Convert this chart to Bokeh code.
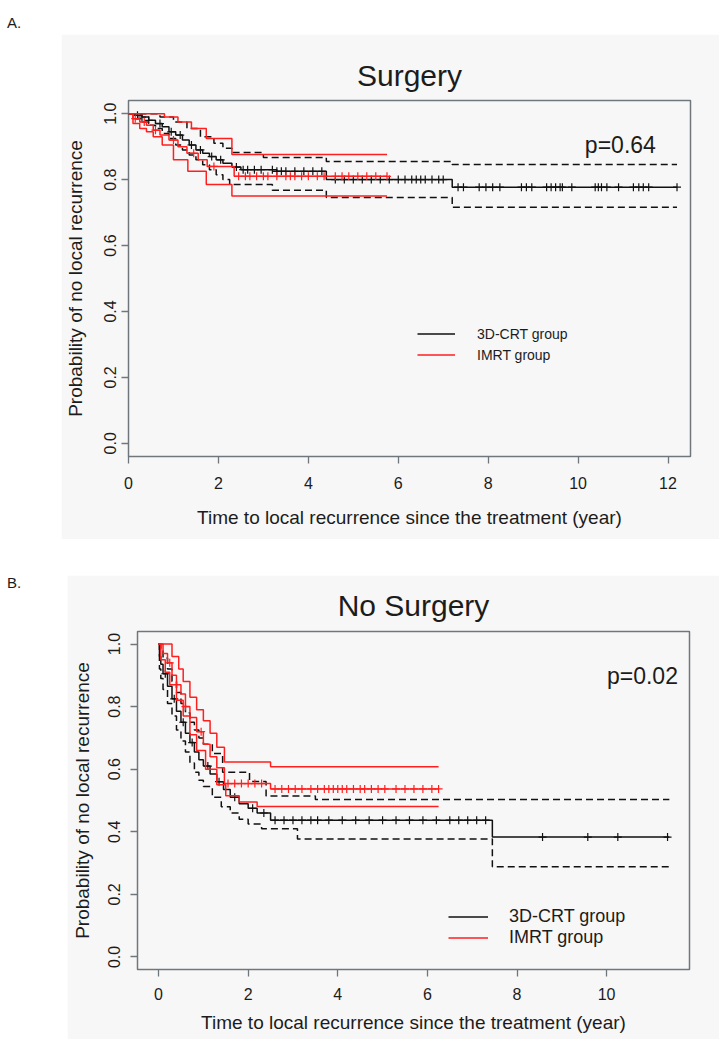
import numpy as np
from bokeh.plotting import figure
from bokeh.models import Range1d, FixedTicker, PrintfTickFormatter, Legend, LegendItem, Label, Div
from bokeh.layouts import column, row
from bokeh.embed import file_html
from bokeh.resources import INLINE

# ---------------- data: Surgery (panel A) ----------------
crt_s_t = [0, 0.15, 0.3, 0.45, 0.6, 0.75, 0.9, 1.05, 1.2, 1.35, 1.5, 1.65, 1.8, 1.95, 2.1, 2.3, 2.5, 3.3, 4.4, 7.2]
crt_s_s = [1.0, 0.995, 0.99, 0.98, 0.97, 0.96, 0.945, 0.935, 0.92, 0.905, 0.89, 0.88, 0.87, 0.86, 0.85, 0.838, 0.83, 0.825, 0.80, 0.777]
crt_s_up_t = [0, 0.4, 0.7, 1.0, 1.3, 1.6, 1.9, 2.1, 2.3, 3.0, 4.4, 7.2]
crt_s_up_s = [1.0, 1.0, 0.99, 0.975, 0.955, 0.93, 0.91, 0.895, 0.882, 0.867, 0.855, 0.846]
crt_s_lo_t = [0, 0.15, 0.3, 0.45, 0.6, 0.75, 0.9, 1.05, 1.2, 1.35, 1.5, 1.65, 1.8, 1.95, 2.1, 2.25, 3.2, 4.4, 7.2]
crt_s_lo_s = [1.0, 0.985, 0.975, 0.965, 0.955, 0.94, 0.925, 0.905, 0.89, 0.875, 0.86, 0.845, 0.83, 0.815, 0.80, 0.785, 0.768, 0.746, 0.716]
crt_s_end = 12.2
crt_s_cens = [0.2, 0.3, 0.45, 0.7, 0.95, 1.15, 1.4, 1.6, 1.85, 2.05, 2.4, 2.55, 2.65, 2.8, 2.95, 3.2, 3.3, 3.4,
              3.5, 3.7, 3.9, 4.1, 4.3, 4.6, 4.8, 5.0, 5.2, 5.4, 5.6, 5.8, 6.0, 6.15, 6.3, 6.4, 6.5, 6.6, 6.75,
              6.9, 7.0, 7.33, 7.45, 7.8, 7.95, 8.1, 8.26, 8.74, 8.85, 8.97, 9.3, 9.4, 9.5, 9.6, 9.65, 9.86,
              10.38, 10.45, 10.52, 10.64, 10.9, 11.23, 11.35, 11.45, 11.57, 12.2]

imrt_s_t = [0, 0.1, 0.25, 0.4, 0.55, 0.7, 0.9, 1.1, 1.3, 1.55, 1.75, 2.35]
imrt_s_s = [1.0, 0.985, 0.975, 0.965, 0.95, 0.935, 0.92, 0.90, 0.88, 0.86, 0.84, 0.81]
imrt_s_up_t = [0, 0.5, 0.8, 1.1, 1.4, 1.73, 2.3]
imrt_s_up_s = [1.0, 1.0, 0.99, 0.975, 0.955, 0.925, 0.876]
imrt_s_lo_t = [0, 0.1, 0.25, 0.4, 0.55, 0.75, 1.0, 1.32, 1.73, 2.3]
imrt_s_lo_s = [1.0, 0.97, 0.955, 0.945, 0.93, 0.905, 0.86, 0.825, 0.785, 0.75]
imrt_s_end = 5.75
imrt_s_cens = [0.15, 0.35, 0.6, 1.0, 1.45, 1.9, 2.45, 2.6, 2.7, 2.85, 3.0, 3.1, 3.3, 3.5, 3.6, 3.7, 3.85,
               4.0, 4.2, 4.35, 4.6, 4.75, 4.9, 5.1, 5.3, 5.5, 5.75]

# ---------------- data: No Surgery (panel B) ----------------
crt_n_t = [0, 0.02, 0.05, 0.1, 0.2, 0.3, 0.4, 0.5, 0.6, 0.7, 0.8, 0.9, 1.0, 1.15, 1.3, 1.45, 1.6, 1.8, 2.0, 2.2, 2.5, 7.45]
crt_n_s = [1.0, 0.96, 0.935, 0.905, 0.865, 0.825, 0.785, 0.75, 0.715, 0.685, 0.655, 0.63, 0.61, 0.585, 0.56,
           0.535, 0.51, 0.49, 0.475, 0.46, 0.437, 0.383]
crt_n_up_t = [0, 0.05, 0.1, 0.2, 0.3, 0.4, 0.5, 0.6, 0.7, 0.8, 0.9, 1.0, 1.2, 1.43, 2.03, 2.4, 3.5]
crt_n_up_s = [1.0, 0.98, 0.955, 0.92, 0.88, 0.845, 0.81, 0.78, 0.75, 0.725, 0.70, 0.68, 0.65, 0.59, 0.561, 0.514, 0.503]
crt_n_lo_t = [0, 0.02, 0.05, 0.1, 0.2, 0.3, 0.4, 0.5, 0.6, 0.7, 0.8, 0.9, 1.0, 1.2, 1.4, 1.6, 1.8, 2.0, 2.3, 3.1, 7.45]
crt_n_lo_s = [1.0, 0.92, 0.89, 0.855, 0.81, 0.77, 0.725, 0.69, 0.655, 0.62, 0.59, 0.565, 0.545, 0.51, 0.48,
              0.46, 0.44, 0.425, 0.41, 0.377, 0.288]
crt_n_end = 11.4
crt_n_cens = [0.15, 0.35, 0.55, 0.75, 1.1, 1.35, 1.7, 2.1, 2.35, 2.6, 2.8, 3.0, 3.2, 3.4, 3.55, 3.8, 4.1, 4.4,
              4.7, 5.0, 5.3, 5.6, 5.9, 6.2, 6.5, 6.7, 6.9, 7.1, 7.3, 8.57, 9.58, 10.25, 11.36]

imrt_n_t = [0, 0.1, 0.2, 0.3, 0.4, 0.5, 0.6, 0.7, 0.85, 1.0, 1.15, 1.3, 1.47, 2.5]
imrt_n_s = [1.0, 0.97, 0.94, 0.90, 0.87, 0.84, 0.80, 0.765, 0.72, 0.68, 0.64, 0.605, 0.554, 0.537]
imrt_n_up_t = [0, 0.2, 0.3, 0.45, 0.55, 0.7, 0.85, 1.0, 1.15, 1.3, 1.47, 2.5]
imrt_n_up_s = [1.0, 1.0, 0.96, 0.92, 0.88, 0.83, 0.79, 0.755, 0.715, 0.67, 0.623, 0.608]
imrt_n_lo_t = [0, 0.05, 0.15, 0.25, 0.4, 0.55, 0.7, 0.85, 1.05, 1.3, 1.5, 1.8, 2.2]
imrt_n_lo_s = [1.0, 0.95, 0.91, 0.87, 0.82, 0.77, 0.71, 0.66, 0.60, 0.55, 0.515, 0.495, 0.481]
imrt_n_end = 6.25
imrt_n_cens = [0.25, 0.6, 0.95, 1.55, 1.7, 1.85, 2.0, 2.15, 2.3, 2.6, 2.75, 2.9, 3.05, 3.2, 3.4, 3.55, 3.7,
               3.8, 3.9, 4.0, 4.1, 4.2, 4.35, 4.5, 4.6, 4.75, 4.9, 5.05, 5.3, 5.5, 5.7, 5.9, 6.1, 6.25]

# ---------------- text / ticks ----------------
titles = ["Surgery", "No Surgery"]
pvalues = ["p=0.64", "p=0.02"]
pvalue_pos = [(10.94, 0.906), (10.8, 0.899)]
legend_labels = ["3D-CRT group", "IMRT group"]
x_ticks_a = [0, 2, 4, 6, 8, 10, 12]
x_ticks_b = [0, 2, 4, 6, 8, 10]
y_ticks = [0.0, 0.2, 0.4, 0.6, 0.8, 1.0]
x_label = "Time to local recurrence since the treatment (year)"
y_label = "Probability of no local recurrence"

FONT = "Liberation Sans"
BG = "#f7f7f7"
BOX = "#6f777c"
TXT = "#1c1c1c"
BLACK = "#111111"
RED = "#ff1f1f"


def step_xy(t, s, end):
    return list(t) + [end], list(s) + [s[-1]]


def cens_y(t, s, c):
    idx = np.searchsorted(np.asarray(t), np.asarray(c), side="right") - 1
    return list(np.asarray(s)[idx])


def make_panel(title, x_lo, x_hi, xticks, w, h, mb, groups, ptxt, ppos,
               leg_loc, leg_font, leg_row, leg_glyph, leg_stand,
               xt_stand, xl_stand, yt_stand, yl_stand, title_stand):
    p = figure(width=w, height=h, x_range=Range1d(x_lo, x_hi), y_range=Range1d(-0.04, 1.04),
               output_backend="svg", toolbar_location=None,
               min_border_left=mb[0], min_border_right=mb[1], min_border_top=mb[2], min_border_bottom=mb[3])
    p.background_fill_color = BG
    p.border_fill_color = BG
    p.grid.visible = False
    p.outline_line_color = BOX
    p.outline_line_width = 1.5

    p.title.text = title
    p.title.align = "center"
    p.title.text_font = FONT
    p.title.text_font_size = "30px"
    p.title.text_font_style = "normal"
    p.title.text_color = TXT
    p.title.standoff = title_stand

    p.xaxis.ticker = FixedTicker(ticks=xticks)
    p.yaxis.ticker = FixedTicker(ticks=y_ticks)
    p.yaxis.formatter = PrintfTickFormatter(format="%.1f")
    p.yaxis.major_label_orientation = "vertical"
    p.xaxis.axis_label = x_label
    p.yaxis.axis_label = y_label
    for ax in (p.xaxis[0], p.yaxis[0]):
        ax.axis_line_color = None
        ax.major_tick_line_color = BOX
        ax.major_tick_line_width = 1.3
        ax.major_tick_out = 7
        ax.major_tick_in = 0
        ax.minor_tick_line_color = None
        ax.major_label_text_font = FONT
        ax.major_label_text_font_size = "16px"
        ax.major_label_text_color = TXT
        ax.axis_label_text_font = FONT
        ax.axis_label_text_font_size = "19px"
        ax.axis_label_text_font_style = "normal"
        ax.axis_label_text_color = TXT
    p.xaxis.major_label_standoff = xt_stand
    p.xaxis.axis_label_standoff = xl_stand
    p.yaxis.major_label_standoff = yt_stand
    p.yaxis.axis_label_standoff = yl_stand

    mains = []
    for color, (t, s, ut, us, lt, ls, end, cens) in groups:
        ux, uy = step_xy(ut, us, end)
        lx, ly = step_xy(lt, ls, end)
        mx, my = step_xy(t, s, end)
        p.step(ux, uy, mode="after", line_color=color, line_width=1.5,
               line_dash="7 4" if color == BLACK else "solid")
        p.step(lx, ly, mode="after", line_color=color, line_width=1.5,
               line_dash="7 4" if color == BLACK else "solid")
        r = p.step(mx, my, mode="after", line_color=color, line_width=1.5)
        p.scatter(cens, cens_y(t, s, cens), marker="cross", size=8, line_color=color, line_width=1.2)
        mains.append(r)

    leg = Legend(items=[LegendItem(label=legend_labels[0], renderers=[mains[0]]),
                        LegendItem(label=legend_labels[1], renderers=[mains[1]])],
                 location=leg_loc, padding=0, margin=0, spacing=0,
                 glyph_width=leg_glyph, glyph_height=leg_row, label_height=leg_row,
                 label_standoff=leg_stand, label_text_font=FONT, label_text_font_size=leg_font,
                 label_text_color=TXT, border_line_color=None, background_fill_alpha=0)
    p.add_layout(leg)

    p.add_layout(Label(x=ppos[0], y=ppos[1], text=ptxt, text_align="center", text_baseline="middle",
                       text_font=FONT, text_font_size="23px", text_color=TXT))
    return p


p1 = make_panel(titles[0], 0, 12.5, x_ticks_a, 658, 505, (67, 29, 66, 83),
                [(BLACK, (crt_s_t, crt_s_s, crt_s_up_t, crt_s_up_s, crt_s_lo_t, crt_s_lo_s, crt_s_end, crt_s_cens)),
                 (RED, (imrt_s_t, imrt_s_s, imrt_s_up_t, imrt_s_up_s, imrt_s_lo_t, imrt_s_lo_s, imrt_s_end, imrt_s_cens))],
                pvalues[0], pvalue_pos[0], (289, 91), "14px", 21, 38, 22,
                13, 15, 5, 16, 17)
p2 = make_panel(titles[1], -0.47, 11.85, x_ticks_b, 652, 464, (70, 30, 56, 70),
                [(BLACK, (crt_n_t, crt_n_s, crt_n_up_t, crt_n_up_s, crt_n_lo_t, crt_n_lo_s, crt_n_end, crt_n_cens)),
                 (RED, (imrt_n_t, imrt_n_s, imrt_n_up_t, imrt_n_up_s, imrt_n_lo_t, imrt_n_lo_s, imrt_n_end, imrt_n_cens))],
                pvalues[1], pvalue_pos[1], (311, 21), "18px", 19, 40, 21,
                11, 9, 10, 13, 19)

p1.margin = (27, 0, 0, 0)
p2.margin = (36, 0, 0, 0)
lab_style = {"font-family": FONT, "font-size": "15px", "color": TXT, "line-height": "20px"}
divA = Div(text="A.", width=54, height=26, margin=(6, 0, 0, 0), styles=lab_style)
divB = Div(text="B.", width=60, height=20, margin=(34, 0, 0, 0), styles=lab_style)

layout = column(row(divA, p1), row(divB, p2))
layout.margin = (7, 0, 0, 7)

with open("out.html", "w") as f:
    f.write(file_html(layout, INLINE))
